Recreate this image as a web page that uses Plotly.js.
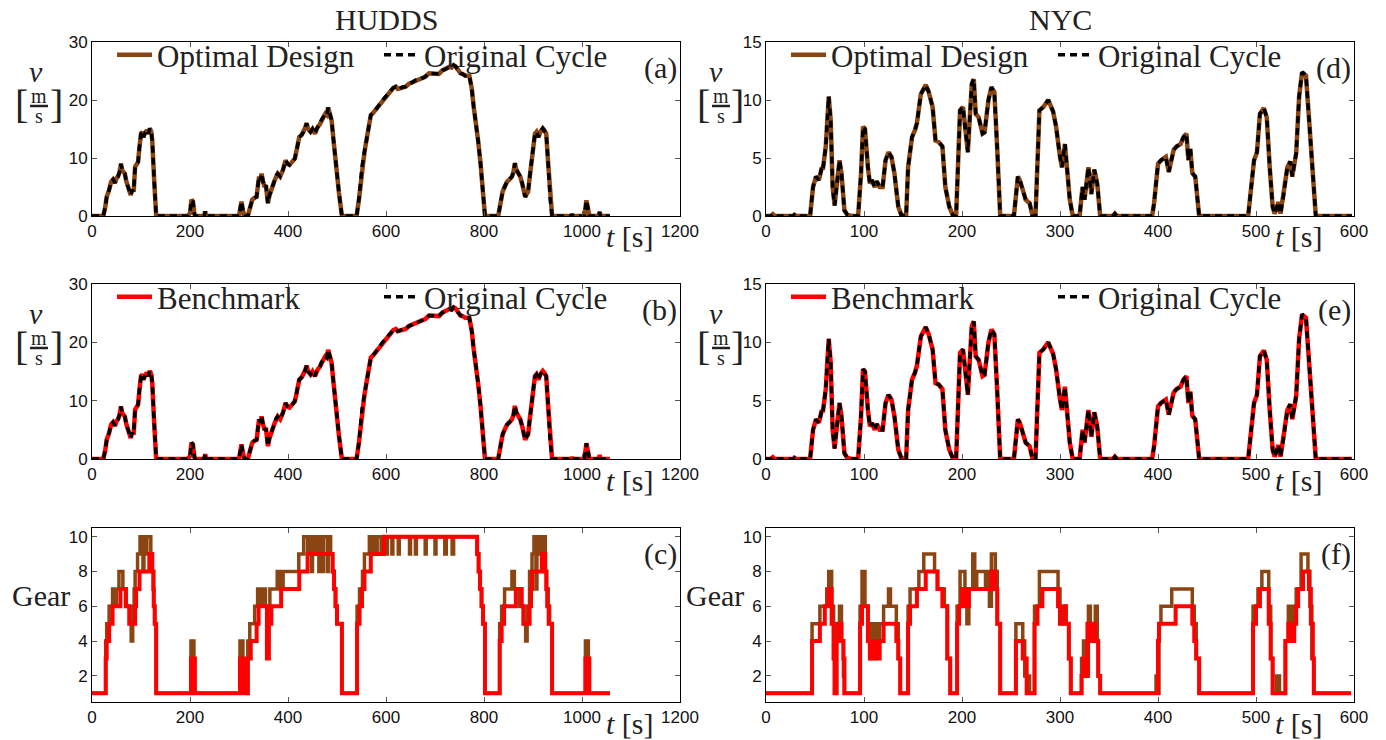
<!DOCTYPE html>
<html>
<head>
<meta charset="utf-8">
<script src="https://cdn.plot.ly/plotly-3.0.1.min.js"></script>
<style>html,body{margin:0;padding:0;background:#fff;}#chart{width:1386px;height:740px;}</style>
</head>
<body>
<div id="chart"></div>
<script>
// ---------------- DATA ----------------
// HUDDS cycle speed [t (s), v (m/s)]
const huddsSpeed = [[0,0],[23,0],[27,1.5],[30,3.3],[35,4.5],[39,5.9],[43,6.3],[47,5.7],[50,6.5],[53,6.8],[56,7.5],[59,9.0],[62,7.8],[67,7.3],[70,6.0],[74,5.0],[77,3.8],[79,3.6],[82,4.5],[85,4.2],[88,8.5],[91,9.0],[94,9.3],[97,12],[100,14.2],[103,14.5],[105,13.6],[108,14.3],[112,14.8],[115,14.2],[118,15.1],[121,14.5],[123,13],[127,6],[131,0],
[195,0],[200,0.5],[203,2.8],[206,2.5],[209,0.3],[211,0],[229,0],[231,0.8],[233,0],[300,0],[303,1.5],[305,2.5],[308,1.0],[311,0],[318,0],[322,1.2],[327,2.8],[331,3.1],[336,3.3],[339,5.5],[341,6.8],[344,6.2],[346,7.3],[349,6.0],[352,5.0],[355,5.3],[359,2.2],[362,3.5],[364,4.2],[368,5.0],[373,6.2],[376,7.0],[379,7.3],[384,6.8],[390,8.0],[395,9.6],[399,9.0],[403,8.8],[408,9.2],[414,9.9],[418,11.5],[423,13.6],[428,14.0],[432,14.5],[435,15.2],[438,16.0],[441,15.0],[446,14.5],[450,15.0],[455,14.2],[458,15.0],[461,15.4],[465,15.8],[468,16.5],[472,17.0],[476,17.6],[479,17.4],[482,18.7],[485,17.8],[489,16.5],[493,13],[498,8.5],[504,4],[510,0],
[540,0],[545,3],[551,8.5],[556,11],[560,13],[565,15.5],[569,17.4],[574,17.8],[578,18.2],[585,19.0],[592,19.9],[598,20.5],[605,21.1],[610,21.5],[615,22.1],[620,22.3],[624,21.9],[628,22.0],[633,22.2],[640,22.3],[647,22.8],[653,23.0],[660,23.4],[667,23.5],[674,23.7],[680,24.0],[688,24.6],[695,24.6],[701,24.6],[708,24.5],[715,25.1],[722,25.3],[729,25.7],[734,25.6],[738,26.0],[742,25.8],[747,25.1],[752,24.6],[756,24.5],[762,24.2],[770,24.2],[775,22],[779,18.8],[784,16],[788,13],[793,9],[797,5],[802,0],
[829,0],[833,2],[838,4.2],[842,5.0],[847,5.9],[852,6.3],[857,6.8],[860,7.5],[863,9.1],[866,8.0],[870,7.3],[874,6.8],[878,5.6],[881,4.0],[884,3.3],[887,3.8],[890,4.2],[893,6.5],[896,9.1],[900,11.5],[904,14.2],[907,14.5],[911,13.6],[915,14.5],[920,15.1],[923,14.8],[927,14.2],[931,9],[935,3],[939,0],
[978,0],[980,0.3],[982,0],[1005,0],[1009,2.7],[1012,1.5],[1015,0],[1034,0],[1036,0.7],[1038,0],[1057,0]];

// HUDDS gear, benchmark (step changes) [t, gear]
const huddsGearBench = [[0,1],[28,3],[30,4],[35,5],[42,6],[58,7],[69,6],[76,5],[88,6],[90,7],[97,8],[117,9],[123,8],[125,7],[126,6],[128,5],[131,1],[202,3],[210,1],[302,3],[310,1],[318,3],[324,4],[336,5],[340,6],[357,3],[361,5],[366,6],[386,7],[423,8],[440,9],[491,8],[494,7],[497,6],[500,5],[510,1],[541,5],[546,6],[551,7],[556,8],[569,9],[596,10],[786,9],[789,8],[792,7],[795,6],[798,5],[802,1],[832,4],[836,5],[841,6],[865,7],[877,6],[881,5],[893,6],[896,7],[898,8],[918,9],[925,8],[927,7],[929,6],[932,5],[939,1],[1007,3],[1015,1],[1057,1]];

// HUDDS gear, optimal design [t, gear]
const huddsGearOpt = [[0,1],[28,4],[30,5],[35,6],[42,7],[48,6],[50,7],[55,8],[63,7],[70,6],[80,4],[83,6],[86,7],[88,8],[93,9],[98,10],[104,8],[106,10],[110,9],[112,10],[120,9],[123,8],[126,6],[128,5],[131,1],[202,4],[208,1],[302,4],[308,1],[318,4],[322,5],[332,6],[338,7],[342,6],[344,7],[348,6],[350,7],[354,6],[357,4],[360,6],[363,7],[378,8],[385,7],[390,8],[422,9],[432,10],[440,9],[442,10],[448,8],[450,10],[455,9],[457,10],[463,8],[466,10],[470,8],[472,10],[480,8],[482,10],[487,9],[491,8],[494,7],[497,6],[500,5],[510,1],[541,6],[546,7],[552,8],[556,9],[566,10],[572,9],[574,10],[580,9],[582,10],[590,9],[592,10],[600,9],[603,10],[612,9],[614,10],[625,9],[627,10],[648,9],[650,10],[660,9],[662,10],[680,9],[682,10],[700,9],[702,10],[720,9],[723,10],[735,9],[738,10],[786,9],[789,8],[792,7],[795,6],[798,5],[802,1],[832,5],[836,6],[842,7],[857,8],[862,7],[872,6],[880,5],[885,4],[888,6],[893,8],[898,9],[902,10],[906,7],[908,10],[912,9],[914,10],[918,9],[920,10],[925,8],[928,7],[931,6],[934,5],[939,1],[1007,4],[1013,1],[1057,1]];

// NYC cycle speed [t (s), v (m/s)]
const nycSpeed = [[0,0],[5,0],[7,0.15],[9,0],[28,0],[29,0.1],[31,0],[45,0],[48,2.5],[51,3.4],[54,3.1],[57,4.2],[58,4.0],[61,6.0],[64,10.3],[66,8.3],[68,2.5],[70,0.9],[72,2.5],[75,4.8],[77,3.7],[80,0.5],[83,0.1],[88,0],[94,0],[97,3.7],[99,7.7],[101,7.5],[104,4.2],[106,2.8],[108,3.1],[111,2.5],[113,3.0],[116,2.5],[119,2.5],[122,4.8],[125,5.5],[128,5.1],[131,3.7],[135,0.8],[138,0.1],[143,0],[145,4.2],[149,6.8],[152,7.4],[154,8.0],[158,10.5],[163,11.3],[166,10.7],[170,9.4],[173,6.5],[176,6.4],[180,6.0],[183,2.5],[187,0.8],[191,0],[194,0],[196,4.2],[198,9.1],[201,9.4],[204,7.1],[206,5.5],[207,7.1],[210,11.4],[212,11.8],[214,8.8],[217,8.5],[221,7.1],[223,7.2],[227,10.0],[230,11.1],[233,10.7],[236,5.7],[239,0],[253,0],[257,3.4],[259,3.1],[263,1.9],[265,1.4],[269,1.1],[272,0],[275,0],[279,9.1],[283,9.4],[288,10.0],[293,9.0],[296,7.7],[300,5.1],[302,4.2],[305,6.2],[307,4.2],[310,1.4],[313,0],[320,0],[323,2.5],[325,1.4],[329,4.2],[332,1.9],[335,4.0],[338,2.8],[341,0],[354,0],[356,0.2],[358,0],[394,0],[396,1.1],[400,4.5],[403,4.8],[408,5.1],[411,3.8],[416,5.7],[419,6.0],[423,6.2],[426,6.8],[429,7.1],[431,4.8],[433,5.8],[435,3.7],[438,3.4],[442,0],[492,0],[498,4.8],[501,5.5],[504,8.8],[508,9.3],[511,8.5],[514,4.2],[517,0.8],[519,0.2],[523,1.2],[525,0.2],[528,1.7],[532,4.2],[535,4.7],[537,3.4],[541,5.4],[544,10.3],[547,12.4],[551,12.1],[554,8.5],[558,2.8],[561,0],[598,0]];

// NYC gear, benchmark [t, gear]
const nycGearBench = [[0,1],[47,4],[55,5],[60,6],[64,7],[67,5],[69,3],[70,1],[72,4],[74,5],[77,4],[79,3],[80,1],[96,5],[98,6],[104,4],[106,3],[108,4],[110,3],[112,4],[114,3],[116,4],[120,5],[133,4],[135,3],[137,1],[145,5],[147,6],[154,7],[163,8],[175,7],[180,6],[185,3],[188,1],[195,5],[197,6],[200,7],[203,6],[207,7],[230,8],[234,7],[236,5],[239,1],[255,4],[262,3],[266,1],[274,5],[277,6],[282,7],[298,6],[300,5],[305,6],[306,5],[309,3],[311,1],[322,2],[324,3],[326,2],[328,5],[331,4],[333,5],[336,4],[339,2],[341,1],[400,4],[401,5],[418,6],[435,5],[437,4],[439,3],[442,1],[497,5],[500,6],[504,7],[513,5],[515,3],[517,1],[530,4],[533,5],[535,4],[536,5],[537,4],[539,5],[541,6],[543,7],[548,8],[554,7],[556,5],[558,3],[559,1],[597,1]];

// NYC gear, optimal design [t, gear]
const nycGearOpt = [[0,1],[47,5],[55,6],[62,7],[64,8],[67,6],[69,3],[70,1],[72,5],[75,6],[77,4],[79,2],[80,1],[96,6],[98,8],[101,6],[104,5],[106,3],[108,5],[110,3],[112,5],[114,4],[116,5],[120,6],[125,7],[127,6],[133,5],[135,3],[137,1],[145,6],[147,7],[156,8],[161,9],[172,8],[175,7],[182,6],[185,3],[188,1],[195,6],[198,8],[203,7],[205,5],[207,7],[211,9],[213,7],[215,8],[222,8],[224,7],[226,8],[228,6],[230,9],[234,8],[236,5],[239,1],[255,5],[262,4],[264,2],[269,1],[274,6],[279,8],[298,7],[300,6],[302,5],[304,6],[306,5],[309,3],[311,1],[322,3],[324,4],[327,2],[329,6],[331,4],[334,5],[336,6],[338,4],[339,2],[341,1],[398,2],[400,1],[401,5],[403,6],[414,7],[430,7],[435,6],[437,5],[439,3],[442,1],[497,6],[502,7],[506,8],[513,6],[515,3],[517,1],[521,2],[524,1],[530,4],[533,6],[536,5],[538,6],[541,7],[546,9],[553,8],[555,6],[557,3],[559,1],[597,1]];

const huddsTicks = [0,200,400,600,800,1000,1200];
const nycTicks = [0,100,200,300,400,500,600];
const speedTicksHudds = [0,10,20,30];
const speedTicksNyc = [0,5,10,15];
const gearTicks = [2,4,6,8,10];
const seriesNames = {opt:'Optimal Design', bench:'Benchmark', orig:'Original Cycle'};
const columnTitles = ['HUDDS','NYC'];
const panelLabels = ['(a)','(b)','(c)','(d)','(e)','(f)'];

// ---------------- STYLE ----------------
const W = 1386, H = 740;
const SERIF = '"Liberation Serif", "Times New Roman", serif';
const SANS = '"Liberation Sans", Arial, sans-serif';
const BROWN = '#8B4513', RED = '#FF0000', BLACK = '#000000', TXT = '#222222';
const xs = a => a.map(p => p[0]);
const ys = a => a.map(p => p[1]);
const fx = px => px / W;
const fy = py => 1 - py / H;

const colL = [92, 680], colR = [766, 1354];
const rows = [[42, 216], [284, 459], [528, 702]];

function speedTrace(data, color, name, xa, ya, leg) {
  return {x: xs(data), y: ys(data), type:'scatter', mode:'lines', xaxis:xa, yaxis:ya,
    name:name, legend:leg, line:{color:color, width:4.5}, hoverinfo:'skip'};
}
function origTrace(data, xa, ya, leg) {
  return {x: xs(data), y: ys(data), type:'scatter', mode:'lines', xaxis:xa, yaxis:ya,
    name:seriesNames.orig, legend:leg, line:{color:BLACK, width:3.5, dash:'7px,5px'}, hoverinfo:'skip'};
}
function gearTrace(data, color, width, xa, ya) {
  return {x: xs(data), y: ys(data), type:'scatter', mode:'lines', xaxis:xa, yaxis:ya,
    showlegend:false, line:{color:color, width:width, shape:'hv'}, hoverinfo:'skip'};
}

const traces = [
  speedTrace(huddsSpeed, BROWN, seriesNames.opt, 'x', 'y', 'legend'),
  origTrace(huddsSpeed, 'x', 'y', 'legend'),
  speedTrace(huddsSpeed, RED, seriesNames.bench, 'x2', 'y2', 'legend2'),
  origTrace(huddsSpeed, 'x2', 'y2', 'legend2'),
  gearTrace(huddsGearOpt, BROWN, 3.5, 'x3', 'y3'),
  gearTrace(huddsGearBench, RED, 4, 'x3', 'y3'),
  speedTrace(nycSpeed, BROWN, seriesNames.opt, 'x4', 'y4', 'legend3'),
  origTrace(nycSpeed, 'x4', 'y4', 'legend3'),
  speedTrace(nycSpeed, RED, seriesNames.bench, 'x5', 'y5', 'legend4'),
  origTrace(nycSpeed, 'x5', 'y5', 'legend4'),
  gearTrace(nycGearOpt, BROWN, 3.5, 'x6', 'y6'),
  gearTrace(nycGearBench, RED, 4, 'x6', 'y6')
];

function axisBase() {
  return {showgrid:false, zeroline:false, showline:true, linecolor:'#000', linewidth:1,
    mirror:'ticks', ticks:'inside', ticklen:5, tickwidth:1, tickcolor:'#555',
    tickfont:{family:SANS, size:17, color:'#111'}, fixedrange:true};
}
function xAxis(col, row, ticks, anchor) {
  return Object.assign(axisBase(), {domain:[fx(col[0]), fx(col[1])], range:[ticks[0], ticks[ticks.length-1]],
    tickmode:'array', tickvals:ticks, anchor:anchor});
}
function yAxis(col, row, range, ticks, anchor) {
  return Object.assign(axisBase(), {domain:[fy(row[1]), fy(row[0])], range:range,
    tickmode:'array', tickvals:ticks, anchor:anchor});
}

const layout = {
  width:W, height:H, margin:{l:0, r:0, t:0, b:0}, paper_bgcolor:'#fff', plot_bgcolor:'#fff',
  xaxis:  xAxis(colL, rows[0], huddsTicks, 'y'),
  yaxis:  yAxis(colL, rows[0], [0,30], speedTicksHudds, 'x'),
  xaxis2: xAxis(colL, rows[1], huddsTicks, 'y2'),
  yaxis2: yAxis(colL, rows[1], [0,30], speedTicksHudds, 'x2'),
  xaxis3: xAxis(colL, rows[2], huddsTicks, 'y3'),
  yaxis3: yAxis(colL, rows[2], [0.5,10.5], gearTicks, 'x3'),
  xaxis4: xAxis(colR, rows[0], nycTicks, 'y4'),
  yaxis4: yAxis(colR, rows[0], [0,15], speedTicksNyc, 'x4'),
  xaxis5: xAxis(colR, rows[1], nycTicks, 'y5'),
  yaxis5: yAxis(colR, rows[1], [0,15], speedTicksNyc, 'x5'),
  xaxis6: xAxis(colR, rows[2], nycTicks, 'y6'),
  yaxis6: yAxis(colR, rows[2], [0.5,10.5], gearTicks, 'x6'),
  annotations: [],
  shapes: []
};

function legendAt(px, py) {
  return {x:fx(px), y:fy(py), xanchor:'left', yanchor:'middle', orientation:'h',
    bgcolor:'rgba(0,0,0,0)', borderwidth:0, itemwidth:35, entrywidth:217, entrywidthmode:'pixels',
    font:{family:SERIF, size:31, color:TXT}, itemclick:false, itemdoubleclick:false};
}
layout.legend  = legendAt(colL[0] + 20, rows[0][0] + 13);
layout.legend2 = legendAt(colL[0] + 20, rows[1][0] + 13);
layout.legend3 = legendAt(colR[0] + 20, rows[0][0] + 13);
layout.legend4 = legendAt(colR[0] + 20, rows[1][0] + 13);

function ann(text, px, py, size, xanchor) {
  layout.annotations.push({text:text, x:fx(px), y:fy(py), xref:'paper', yref:'paper', showarrow:false,
    xanchor:xanchor || 'center', yanchor:'middle', font:{family:SERIF, size:size, color:TXT}});
}

// column titles
ann(columnTitles[0], (colL[0] + colL[1]) / 2, 20, 30);
ann(columnTitles[1], (colR[0] + colR[1]) / 2, 20, 30);

// panel labels
[[colL,0],[colL,1],[colL,2],[colR,0],[colR,1],[colR,2]].forEach((c, i) => {
  ann(panelLabels[i], c[0][1] - 1, rows[c[1]][0] + 26, 30, 'right');
});

// x-axis labels  t [s]
rows.forEach(r => {
  ann('<i>t</i> [s]', 630, r[1] + 21, 30);
  ann('<i>t</i> [s]', 1299, r[1] + 21, 30);
});

// y-axis labels for speed rows: v [m/s]
[[36, 39], [716, 721]].forEach(c => {
  [0, 1].forEach(ri => {
    const top = rows[ri][0];
    ann('<i>v</i>', c[0], top + 29, 30);
    ann('[', c[1] - 18, top + 62, 40);
    ann(']', c[1] + 17, top + 62, 40);
    ann('m', c[1], top + 54, 20);
    ann('s', c[1], top + 74, 20);
    layout.shapes.push({type:'line', xref:'paper', yref:'paper',
      x0:fx(c[1] - 9), x1:fx(c[1] + 9), y0:fy(top + 64), y1:fy(top + 64),
      line:{color:'#222', width:2.5}});
  });
});

// Gear labels
ann('Gear', 41, 595, 30);
ann('Gear', 715, 595, 30);

Plotly.newPlot('chart', traces, layout, {displayModeBar:false, staticPlot:true});
</script>
</body>
</html>
